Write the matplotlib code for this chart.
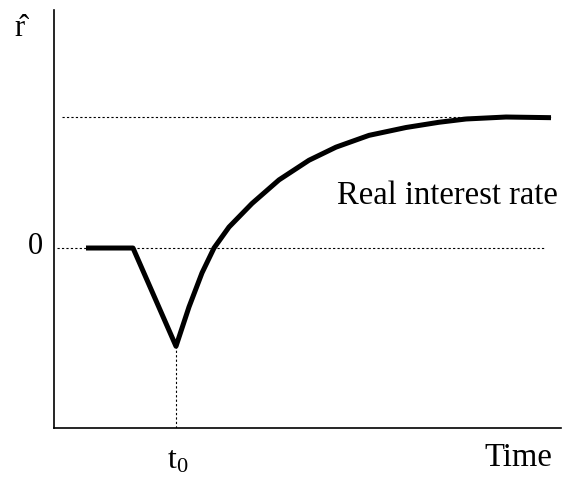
import matplotlib.pyplot as plt

# time axis (arbitrary units) and real interest rate deviation
time = [6.4, 15.8, 24.4, 27, 29.6, 32, 35, 39.6, 45, 51, 56.4, 63, 70.4, 77, 82.4, 90.4, 99.4]
rate = [0, 0, -0.75, -0.45, -0.19, 0, 0.16, 0.34, 0.52, 0.67, 0.77, 0.86, 0.92, 0.96, 0.985, 1.0, 0.995]
t0 = 24.4
r_min = -0.75
r_new = 1.0

plt.rcParams['font.family'] = ['Liberation Serif', 'DejaVu Serif']
plt.rcParams['mathtext.fontset'] = 'custom'
plt.rcParams['mathtext.rm'] = 'Liberation Serif'
plt.rcParams['mathtext.it'] = 'Liberation Serif'

fig = plt.figure(figsize=(5.62, 4.79), dpi=100)
ax = fig.add_axes([54 / 562, 51 / 479, 507 / 562, 418 / 479])

ymin, ymax = -1.374, 1.817
ax.set_xlim(0, 101.4)
ax.set_ylim(ymin, ymax)

dot = dict(color='black', lw=0.8, ls=(0, (2, 2)))
ax.plot([0.6, 98], [0, 0], **dot)
ax.plot([1.6, 99.4], [r_new, r_new], **dot)
ax.plot([t0, t0], [ymin, r_min], **dot)

ax.plot(time, rate, color='black', lw=3.6, solid_joinstyle='round', solid_capstyle='butt')

ax.text(56.6, 0.40, 'Real interest rate', fontsize=23.5, va='center', ha='left')

for s in ['top', 'right']:
    ax.spines[s].set_visible(False)
ax.spines['left'].set_linewidth(1.2)
ax.spines['bottom'].set_linewidth(1.2)
ax.set_xticks([])
ax.set_yticks([])

fig.text(19 / 562, 1 - 29 / 479, 'r\u0302', fontsize=22, ha='center', va='center')
fig.text(35 / 562, 1 - 247 / 479, '0', fontsize=22, ha='center', va='center')
fig.text(178 / 562, 1 - 461 / 479, r't$_{\mathrm{0}}$', fontsize=23, ha='center', va='center')
fig.text(518 / 562, 1 - 458 / 479, 'Time', fontsize=23.5, ha='center', va='center')

fig.savefig('out.png', dpi=100)
